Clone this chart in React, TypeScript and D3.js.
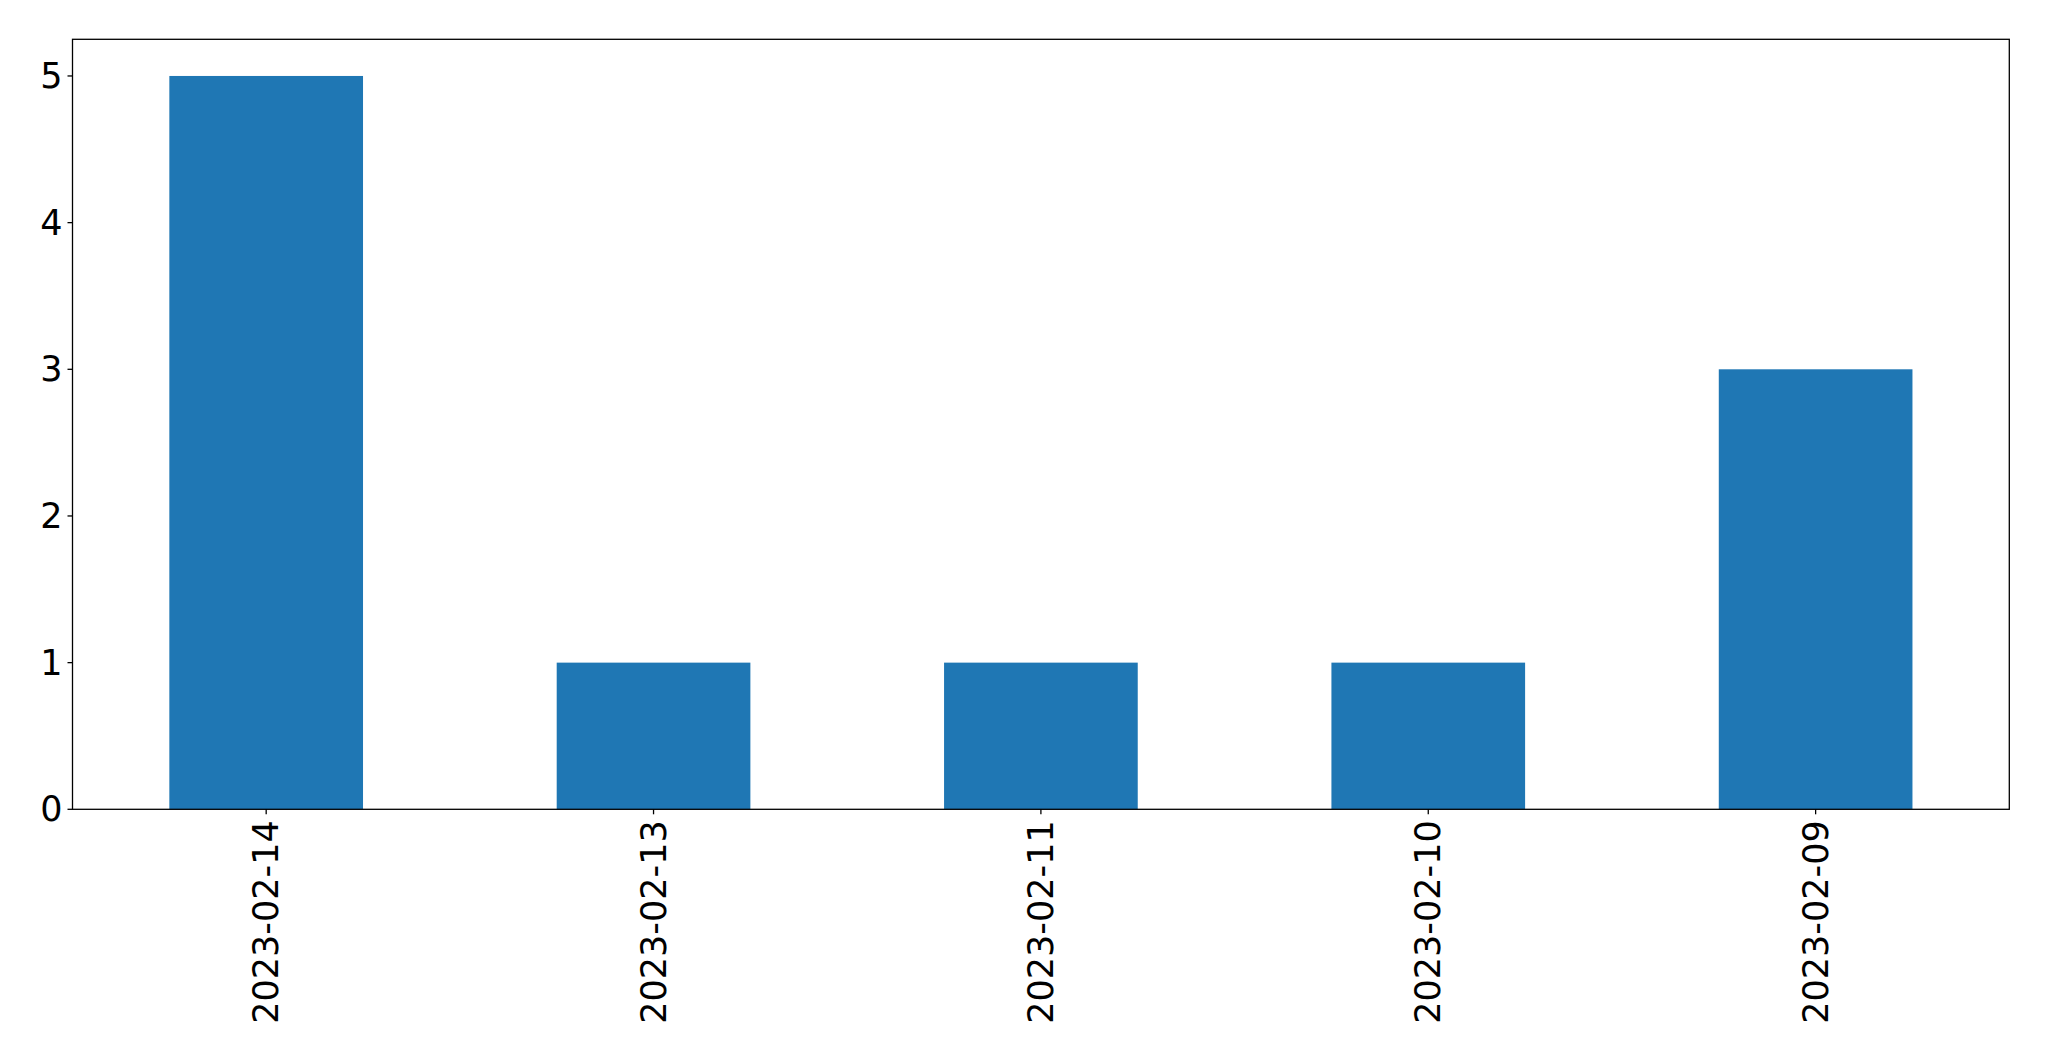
import React from "react";
import * as d3 from "d3";

const categories = ["2023-02-14", "2023-02-13", "2023-02-11", "2023-02-10", "2023-02-09"];
const values = [5, 1, 1, 1, 3];
const yTicks = [0, 1, 2, 3, 4, 5];

const W = 2049;
const H = 1061;
const left = 72.5;
const right = 2009.3;
const top = 39.3;
const bottom = 809.3;
const FONT = "DejaVu Sans, sans-serif";
const FS = 35;

export default function App() {
  const x = d3.scaleBand<string>().domain(categories).range([left, right]).paddingInner(0.5).paddingOuter(0.25);
  const y = d3.scaleLinear().domain([0, 5.25]).range([bottom, top]);
  return (
    <svg width={W} height={H} style={{ position: "absolute", left: 0, top: 0, background: "#fff" }}>
      <rect x={0} y={0} width={W} height={H} fill="#fff" />
      {categories.map((c, i) => (
        <rect key={c} x={x(c)!} y={y(values[i])} width={x.bandwidth()} height={y(0) - y(values[i])} fill="#1f77b4" />
      ))}
      <rect x={left} y={top} width={right - left} height={bottom - top} fill="none" stroke="#000" strokeWidth={1.3} />
      {yTicks.map((t) => (
        <g key={t}>
          <line x1={left - 5} x2={left} y1={y(t)} y2={y(t)} stroke="#000" strokeWidth={1.3} />
          <text x={left - 10} y={y(t)} textAnchor="end" dominantBaseline="central" fontFamily={FONT} fontSize={FS} fill="#000">
            {t}
          </text>
        </g>
      ))}
      {categories.map((c) => {
        const cx = x(c)! + x.bandwidth() / 2;
        return (
          <g key={c}>
            <line x1={cx} x2={cx} y1={bottom} y2={bottom + 5} stroke="#000" strokeWidth={1.3} />
            <text
              transform={`translate(${cx},${bottom + 11}) rotate(-90)`}
              textAnchor="end"
              dominantBaseline="central"
              fontFamily={FONT}
              fontSize={FS}
              fill="#000"
            >
              {c}
            </text>
          </g>
        );
      })}
    </svg>
  );
}
